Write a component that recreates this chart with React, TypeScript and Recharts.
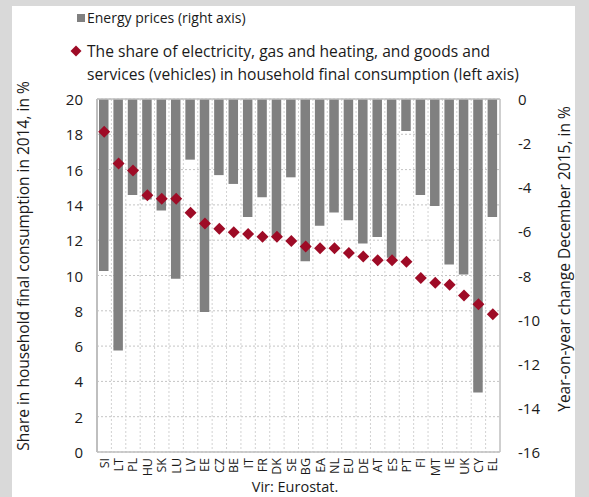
import React from 'react';
import { ComposedChart, Bar, Line, XAxis, YAxis, CartesianGrid, ReferenceLine } from 'recharts';

const countries = ['SI','LT','PL','HU','SK','LU','LV','EE','CZ','BE','IT','FR','DK','SE','BG','EA','NL','EU','DE','AT','ES','PT','FI','MT','IE','UK','CY','EL'];
const energyPrices = [-7.8,-11.4,-4.35,-4.55,-5.05,-8.15,-2.75,-9.65,-3.45,-3.85,-5.35,-4.45,-6.25,-3.55,-7.35,-5.75,-5.15,-5.5,-6.55,-6.25,-7.2,-1.45,-4.35,-4.85,-7.5,-7.95,-13.3,-5.35];
const shares = [18.15,16.35,15.95,14.55,14.35,14.35,13.55,12.95,12.65,12.45,12.35,12.2,12.2,11.95,11.65,11.55,11.55,11.28,11.07,10.86,10.86,10.78,9.86,9.59,9.48,8.86,8.37,7.8];
const leftTicks = [0,2,4,6,8,10,12,14,16,18,20];
const rightTicks = [-16,-14,-12,-10,-8,-6,-4,-2,0];

const data = countries.map((c, i) => ({ name: c, energy: energyPrices[i], share: shares[i] }));

const FONT = '"Open Sans", "Noto Sans", sans-serif';
const TXT = '#1a1a1a';
const RED = '#9e0b26';
const BARC = '#808080';
const GRID = '#c4c4c4';
const FRAME = '#bfbfbf';

const XTick = (props: any) => {
  const { x, y, payload } = props;
  const ty = y + 4;
  return (
    <text x={x} y={ty} transform={`rotate(-90, ${x}, ${ty})`} textAnchor="end" dominantBaseline="central"
      fontSize={12.5} fill={TXT} fontFamily={FONT}>{payload.value}</text>
  );
};

const LeftTick = (props: any) => {
  const { x, y, payload } = props;
  return <text x={x} y={y} textAnchor="end" dominantBaseline="central" fontSize={15} fill={TXT} fontFamily={FONT}>{payload.value}</text>;
};

const RightTick = (props: any) => {
  const { x, y, payload } = props;
  return <text x={x} y={y} textAnchor="start" dominantBaseline="central" fontSize={15} fill={TXT} fontFamily={FONT}>{payload.value}</text>;
};

const Diamond = (props: any) => {
  const { cx, cy } = props;
  if (cx == null || cy == null) return null;
  const r = 6;
  return <polygon points={`${cx},${cy - r} ${cx + r},${cy} ${cx},${cy + r} ${cx - r},${cy}`} fill={RED} />;
};

export default function App() {
  return (
    <div style={{ position: 'absolute', left: 0, top: 0, width: 589, height: 497, background: '#d9d9d9', overflow: 'hidden', fontFamily: FONT, color: TXT }}>
      <div style={{ position: 'absolute', left: 12, top: 6, width: 563, height: 491, background: '#ffffff' }} />
      <div style={{ position: 'absolute', left: 0, top: 0 }}>
        <ComposedChart width={589} height={497} data={data} margin={{ top: 99, right: 29, bottom: 15, left: 37 }} barCategoryGap={0}>
          <CartesianGrid yAxisId="left" vertical={false} stroke={GRID} strokeDasharray="2 2" />
          <CartesianGrid yAxisId="left" horizontal={false} stroke="#d2d2d2" strokeDasharray="2 2"
            verticalCoordinatesGenerator={({ offset }: any) => countries.slice(1).map((_, i) => offset.left + (i + 1) * offset.width / countries.length)} />
          <XAxis dataKey="name" interval={0} tick={<XTick />} tickLine={false} tickSize={0} height={30}
            axisLine={{ stroke: FRAME, strokeWidth: 1.5 }} />
          <YAxis yAxisId="left" domain={[0, 20]} ticks={leftTicks} width={60} tick={<LeftTick />} tickLine={false}
            tickSize={0} tickMargin={14} axisLine={{ stroke: FRAME, strokeWidth: 2 }} />
          <YAxis yAxisId="right" orientation="right" domain={[-16, 0]} ticks={rightTicks} width={60} tick={<RightTick />}
            tickLine={false} tickSize={0} tickMargin={18} axisLine={{ stroke: FRAME, strokeWidth: 1.5 }} />
          <ReferenceLine yAxisId="left" y={20} stroke={FRAME} strokeWidth={1.5} />
          <Bar yAxisId="right" dataKey="energy" fill={BARC} barSize={9.5} isAnimationActive={false} />
          <Line yAxisId="left" dataKey="share" stroke="none" dot={<Diamond />} activeDot={false} isAnimationActive={false} />
        </ComposedChart>
      </div>
      {/* legend */}
      <div style={{ position: 'absolute', left: 77, top: 14, width: 8, height: 8, background: BARC }} />
      <div style={{ position: 'absolute', left: 87, top: 7, fontSize: 14, lineHeight: '22px', whiteSpace: 'nowrap' }}>Energy prices (right axis)</div>
      <svg style={{ position: 'absolute', left: 70, top: 45 }} width={12} height={12}>
        <polygon points="6,0.5 11.5,6 6,11.5 0.5,6" fill={RED} />
      </svg>
      <div style={{ position: 'absolute', left: 87, top: 40, fontSize: 15.6, lineHeight: '23px', whiteSpace: 'nowrap' }}>
        The share of electricity, gas and heating, and goods and<br />services (vehicles) in household final consumption (left axis)
      </div>
      {/* axis titles */}
      <div style={{ position: 'absolute', left: 23 - 200, top: 266 - 10, width: 400, height: 20, lineHeight: '20px', textAlign: 'center', fontSize: 15.5, transform: 'rotate(-90deg)', whiteSpace: 'nowrap' }}>
        Share in household final consumption in 2014, in %
      </div>
      <div style={{ position: 'absolute', left: 564 - 200, top: 259 - 10, width: 400, height: 20, lineHeight: '20px', textAlign: 'center', fontSize: 15.5, transform: 'rotate(-90deg)', whiteSpace: 'nowrap' }}>
        Year-on-year change December 2015, in %
      </div>
      <div style={{ position: 'absolute', left: 195, top: 477, width: 200, lineHeight: '20px', textAlign: 'center', fontSize: 14.5 }}>Vir: Eurostat.</div>
    </div>
  );
}
